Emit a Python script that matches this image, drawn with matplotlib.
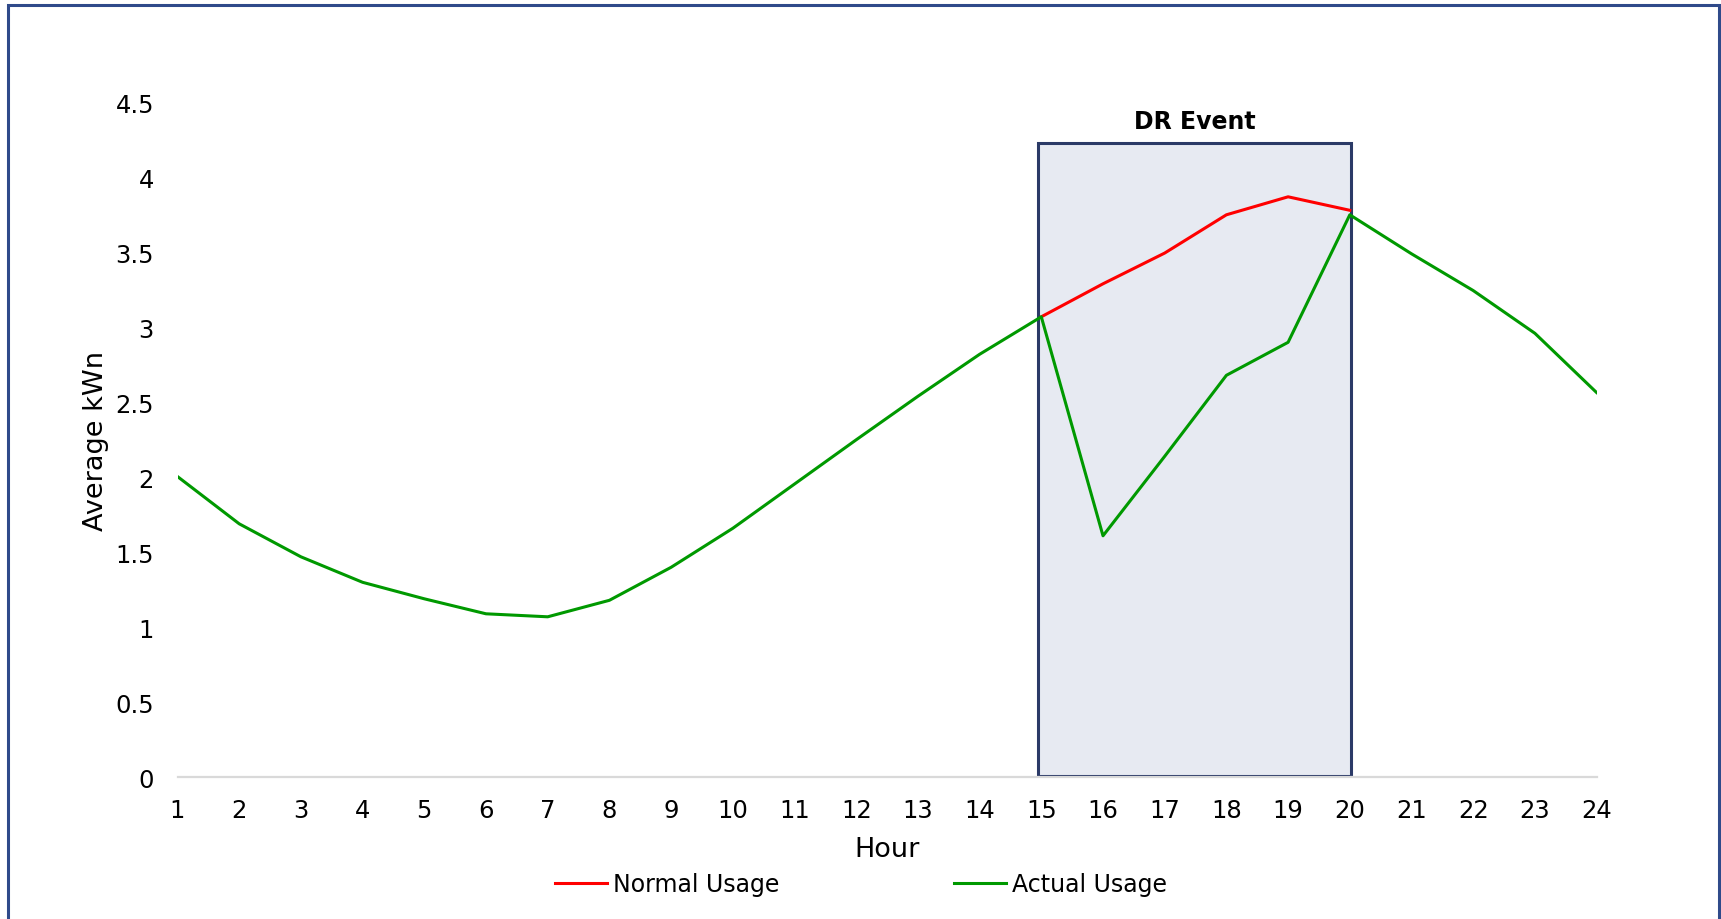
import matplotlib
matplotlib.use("Agg")
from matplotlib import pyplot as plt
from matplotlib.patches import Rectangle

plt.rcParams['font.family'] = ['DejaVu Sans']

# 数据
hours = list(range(1, 25))
actual_usage = [2.005, 1.69, 1.47, 1.30, 1.19, 1.09, 1.07, 1.18, 1.40, 1.66,
                1.955, 2.25, 2.54, 2.82, 3.07, 1.61, 2.14, 2.68, 2.90, 3.75,
                3.49, 3.245, 2.96, 2.565]
normal_hours = [15, 16, 17, 18, 19, 20]
normal_usage = [3.07, 3.29, 3.495, 3.75, 3.87, 3.78]
y_ticks = [0, 0.5, 1, 1.5, 2, 2.5, 3, 3.5, 4, 4.5]
y_tick_labels = ["0", "0.5", "1", "1.5", "2", "2.5", "3", "3.5", "4", "4.5"]
event_start, event_end = 14.95, 20.02
event_top = 4.23

fig = plt.figure(figsize=(17.21, 9.2), dpi=100)
ax = fig.add_axes([177.5 / 1721, 1 - 778.3 / 920, (1596.6 - 177.5) / 1721, (778.3 - 103.3) / 920])

# DR事件的方框
ax.add_patch(Rectangle((event_start, 0.01), event_end - event_start, event_top - 0.01,
                       facecolor="#E7EAF2", edgecolor="#2B3A67", linewidth=2.2, zorder=1))
ax.text((event_start + event_end) / 2, 4.377, "DR Event", ha="center", va="center",
        fontsize=17, fontweight="bold", color="black")

ax.plot(normal_hours, normal_usage, color="#FF0000", linewidth=2.2, label="Normal Usage", zorder=3)
ax.plot(hours, actual_usage, color="#009900", linewidth=2.2, label="Actual Usage", zorder=4)

ax.set_xlim(1, 24)
ax.set_ylim(0, 4.5)
ax.set_xticks(hours)
ax.set_yticks(y_ticks, y_tick_labels)
ax.tick_params(axis="both", length=0, labelsize=17.5)
ax.tick_params(axis="x", pad=15)
ax.tick_params(axis="y", pad=17)
for s in ["top", "right", "left"]:
    ax.spines[s].set_visible(False)
ax.spines["bottom"].set_color("#D9D9D9")
ax.spines["bottom"].set_linewidth(1.6)

ax.set_xlabel("Hour", fontsize=19.5, labelpad=10)
ax.set_ylabel("Average kWn", fontsize=19.5, labelpad=4.5)

leg = fig.legend(loc="center", bbox_to_anchor=(861 / 1721, 1 - 885 / 920), ncol=2,
                 frameon=False, fontsize=17, handlelength=2.2, handletextpad=0.25,
                 columnspacing=7.4, borderpad=0)

# 外边框
fig.patches.append(Rectangle((8 / 1721, -0.05), (1719 - 8) / 1721, 1 - 6 / 920 + 0.05,
                             transform=fig.transFigure, fill=False, edgecolor="#2F4A8A",
                             linewidth=2.2, clip_on=False))

plt.savefig("out.png", dpi=100)
